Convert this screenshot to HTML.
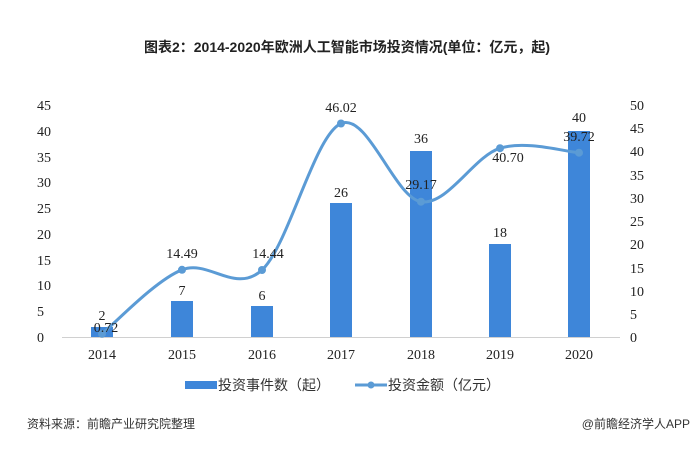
<!DOCTYPE html>
<html><head><meta charset="utf-8"><style>
body{margin:0;background:#fff;}
svg{display:block;font-family:"Liberation Sans","Noto Sans CJK SC",sans-serif;}
.n{font-family:"Liberation Serif",serif;}
</style></head><body>
<svg width="694" height="462" viewBox="0 0 694 462" xmlns="http://www.w3.org/2000/svg">
<text x="347" y="52" text-anchor="middle" font-size="14" font-weight="bold" fill="#222">图表2：2014-2020年欧洲人工智能市场投资情况(单位：亿元，起)</text>
<g class="n" font-size="14" fill="#222" text-anchor="start">
<text x="37" y="342">0</text><text x="37" y="316">5</text><text x="37" y="290">10</text><text x="37" y="265">15</text><text x="37" y="239">20</text><text x="37" y="213">25</text><text x="37" y="187">30</text><text x="37" y="162">35</text><text x="37" y="136">40</text><text x="37" y="110">45</text>
</g>
<g class="n" font-size="14" fill="#222" text-anchor="start">
<text x="630" y="342">0</text><text x="630" y="319">5</text><text x="630" y="296">10</text><text x="630" y="273">15</text><text x="630" y="249">20</text><text x="630" y="226">25</text><text x="630" y="203">30</text><text x="630" y="180">35</text><text x="630" y="156">40</text><text x="630" y="133">45</text><text x="630" y="110">50</text>
</g>
<line x1="62" y1="337.5" x2="620" y2="337.5" stroke="#d0d0d0"/>
<g fill="#3e86d9">
<rect x="91" y="327" width="22" height="10"/>
<rect x="171" y="301" width="22" height="36"/>
<rect x="251" y="306" width="22" height="31"/>
<rect x="330" y="203" width="22" height="134"/>
<rect x="410" y="151" width="22" height="186"/>
<rect x="489" y="244" width="22" height="93"/>
<rect x="568" y="131" width="22" height="206"/>
</g>
<path d="M102,333.7 C115.3,323.1 155.3,280.4 182,269.8 C208.7,259.2 235.5,294.4 262,270 C288.5,245.6 314.5,134.9 341,123.5 C367.5,112.1 394.5,197.6 421,201.7 C447.5,205.8 473.7,156.4 500,148.2 C526.3,140 565.8,152 579,152.7" fill="none" stroke="#5b9bd5" stroke-width="3"/>
<g fill="#5b9bd5">
<circle cx="102" cy="333.7" r="4"/><circle cx="182" cy="269.8" r="4"/><circle cx="262" cy="270" r="4"/><circle cx="341" cy="123.5" r="4"/><circle cx="421" cy="201.7" r="4"/><circle cx="500" cy="148.2" r="4"/><circle cx="579" cy="152.7" r="4"/>
</g>
<g class="n" font-size="14" fill="#222" text-anchor="middle">
<text x="102" y="320">2</text><text x="106" y="332">0.72</text>
<text x="182" y="295">7</text><text x="182" y="258">14.49</text>
<text x="262" y="300">6</text><text x="268" y="258">14.44</text>
<text x="341" y="197">26</text><text x="341" y="112">46.02</text>
<text x="421" y="143">36</text><text x="421" y="189">29.17</text>
<text x="500" y="237">18</text><text x="508" y="162">40.70</text>
<text x="579" y="122">40</text><text x="579" y="141">39.72</text>
</g>
<g class="n" font-size="14" fill="#222" text-anchor="middle">
<text x="102" y="359">2014</text><text x="182" y="359">2015</text><text x="262" y="359">2016</text><text x="341" y="359">2017</text><text x="421" y="359">2018</text><text x="500" y="359">2019</text><text x="579" y="359">2020</text>
</g>
<rect x="185" y="381" width="32" height="8" fill="#3e86d9"/>
<text x="218" y="390" font-size="14" fill="#333">投资事件数（起）</text>
<line x1="355" y1="385" x2="387" y2="385" stroke="#5b9bd5" stroke-width="3"/>
<circle cx="371" cy="385" r="3.5" fill="#5b9bd5"/>
<text x="388" y="390" font-size="14" fill="#333">投资金额（亿元）</text>
<text x="27" y="428" font-size="12" fill="#333">资料来源：前瞻产业研究院整理</text>
<text x="690" y="428" font-size="12" fill="#333" text-anchor="end">@前瞻经济学人APP</text>
</svg>
</body></html>
